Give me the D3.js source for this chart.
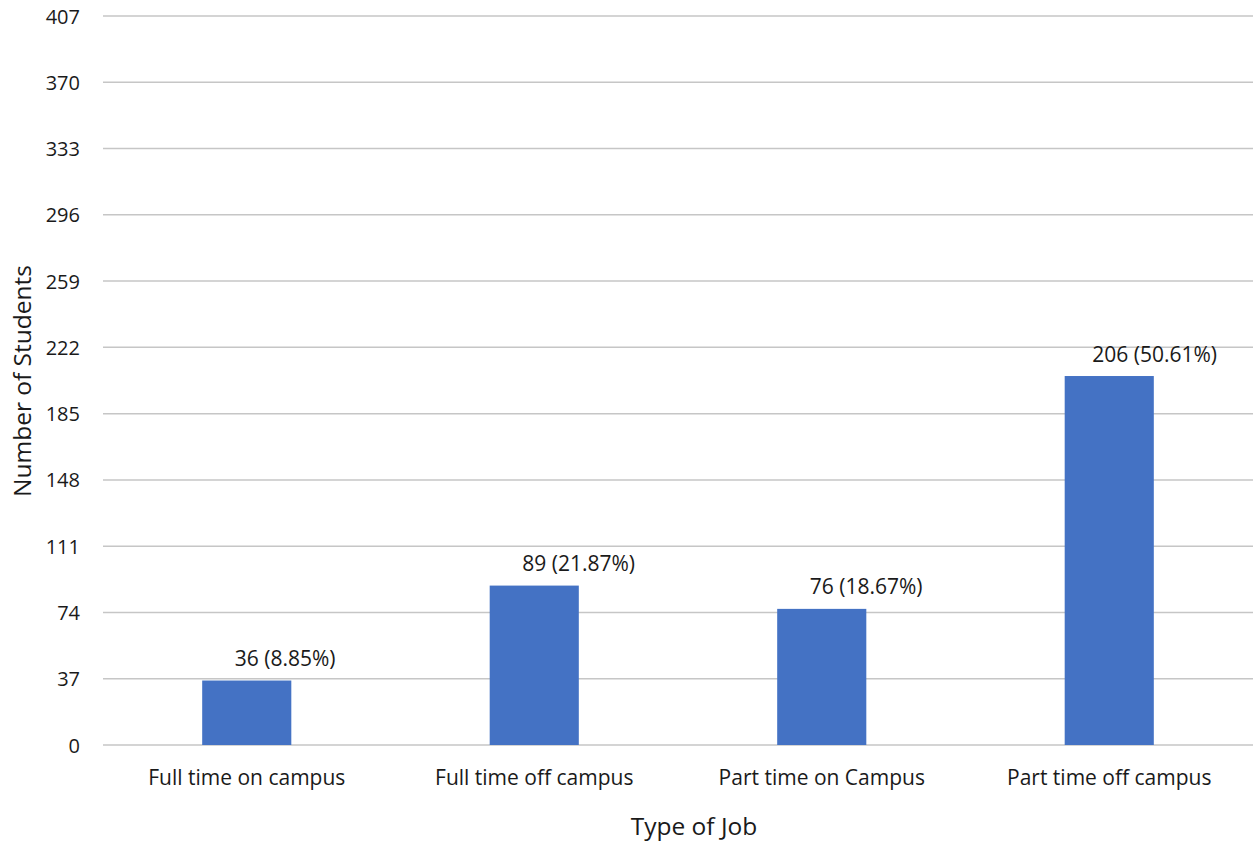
<!DOCTYPE html>
<html>
<head>
<meta charset="utf-8">
<script src="https://cdn.jsdelivr.net/npm/d3@7"></script>
<style>
  html, body { margin: 0; padding: 0; background: #fff; }
  svg { display: block; font-family: "Open Sans", "Noto Sans", sans-serif; }
</style>
</head>
<body>
<svg id="chart" width="1253" height="842"></svg>
<script>
// Job categories and student counts
const categories = ["Full time on campus", "Full time off campus", "Part time on Campus", "Part time off campus"];
const students = [36, 89, 76, 206];
const yTicks = [0, 37, 74, 111, 148, 185, 222, 259, 296, 333, 370, 407];
const yMax = 407;

const svg = d3.select("#chart");
const margin = { left: 103, right: 0, top: 16, bottom: 97 };
const width = 1253, height = 842;

const x = d3.scaleBand()
  .domain(categories)
  .range([margin.left, width - margin.right])
  .paddingInner(0.69)
  .paddingOuter(0.345);

const y = d3.scaleLinear()
  .domain([0, yMax])
  .range([height - margin.bottom, margin.top]);

const total = d3.sum(students);

// Horizontal gridlines
svg.append("g")
  .selectAll("line")
  .data(yTicks)
  .join("line")
  .attr("x1", margin.left)
  .attr("x2", width - margin.right)
  .attr("y1", d => y(d))
  .attr("y2", d => y(d))
  .attr("stroke", "#c6c6c6")
  .attr("stroke-width", 1.5);

// Y axis tick labels
const yAxis = d3.axisLeft(y).tickValues(yTicks).tickSize(0).tickPadding(0);
const gy = svg.append("g")
  .attr("transform", `translate(80,0)`)
  .call(yAxis);
gy.select(".domain").remove();
gy.selectAll("text")
  .attr("font-family", "Open Sans")
  .attr("font-size", 20)
  .attr("fill", "#1a1a1a")
  .attr("dy", "0.35em");

// Bars
svg.append("g")
  .selectAll("rect")
  .data(students)
  .join("rect")
  .attr("x", (d, i) => x(categories[i]))
  .attr("width", x.bandwidth())
  .attr("y", d => y(d))
  .attr("height", d => y(0) - y(d))
  .attr("fill", "#4472C4");

// Value labels with share of total
svg.append("g")
  .selectAll("text")
  .data(students)
  .join("text")
  .attr("x", (d, i) => x(categories[i]) + x.bandwidth() / 2 - (d >= 100 ? 17 : 12))
  .attr("y", d => y(d) - 14.5)
  .attr("font-size", 21)
  .attr("fill", "#1a1a1a")
  .text(d => `${d} (${(d / total * 100).toFixed(2)}%)`);

// X axis category labels
const xAxis = d3.axisBottom(x).tickSize(0).tickPadding(0);
const gx = svg.append("g")
  .attr("transform", `translate(0,${y(0)})`)
  .call(xAxis);
gx.select(".domain").remove();
gx.selectAll("text")
  .attr("font-family", "Open Sans")
  .attr("font-size", 21)
  .attr("fill", "#1a1a1a")
  .attr("dy", null)
  .attr("y", 40);

// Axis titles
svg.append("text")
  .attr("x", 694)
  .attr("y", 835)
  .attr("text-anchor", "middle")
  .attr("font-size", 24.5)
  .attr("fill", "#1a1a1a")
  .text("Type of Job");

svg.append("text")
  .attr("transform", "translate(31,381) rotate(-90)")
  .attr("text-anchor", "middle")
  .attr("font-size", 24.5)
  .attr("fill", "#1a1a1a")
  .text("Number of Students");
</script>
</body>
</html>
